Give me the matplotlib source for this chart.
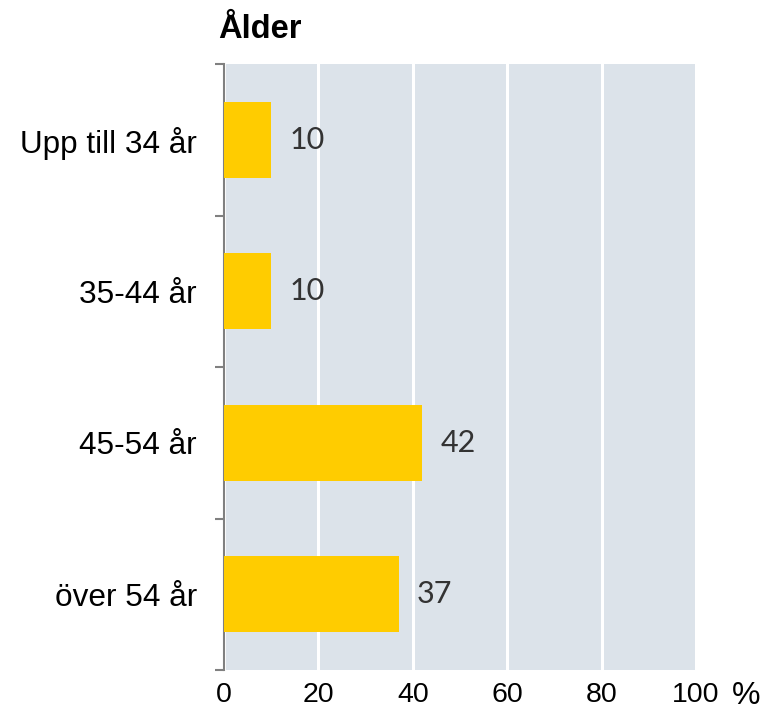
import matplotlib
matplotlib.use("Agg")
import matplotlib.pyplot as plt
import numpy as np

categories = ["Upp till 34 år", "35-44 år", "45-54 år", "över 54 år"]
values = [10, 10, 42, 37]
xticks = [0, 20, 40, 60, 80, 100]
title = "Ålder"

plt.rcParams['font.family'] = ['Liberation Sans', 'DejaVu Sans']

fig = plt.figure(figsize=(7.67, 7.12), dpi=100)
ax = fig.add_axes([224/767, 1-670/712, (696-224)/767, (670-64)/712])
ax.set_facecolor('#dce3ea')

y = np.arange(len(categories))
ax.barh(y, values, height=0.5, color='#ffcc00', zorder=3)
ax.set_xlim(0, 100)
ax.set_ylim(len(categories)-0.5, -0.5)

ax.set_xticks(xticks)
ax.set_xticklabels([str(t) for t in xticks], fontsize=20.5)
ax.tick_params(axis='x', length=0, pad=9)
ax.xaxis.grid(True, color='white', linewidth=2.2)
ax.set_axisbelow(True)

ax.set_yticks(y)
ax.set_yticklabels(categories, fontsize=22.7)
ax.tick_params(axis='y', which='major', length=0, pad=19.5)
ax.set_yticks(np.arange(-0.5, len(categories), 1.0), minor=True)
ax.tick_params(axis='y', which='minor', length=6.5, width=1.5, color='#808080', direction='out')

for s in ['top', 'right', 'bottom']:
    ax.spines[s].set_visible(False)
ax.spines['left'].set_color('#808080')
ax.spines['left'].set_linewidth(1.5)

for yi, v in zip(y, values):
    ax.annotate(str(v), xy=(v, yi), xytext=(13, 0), textcoords='offset points',
                ha='left', va='center', fontsize=22, color='#333333',
                family=['Lato', 'DejaVu Sans'])

fig.text(218/767, 1-30/712, title, fontsize=23.5, fontweight='bold', ha='left', va='center')
fig.text(746/767, 1-696/712, '%', fontsize=23, ha='center', va='center')

fig.savefig('out.png', dpi=100)
